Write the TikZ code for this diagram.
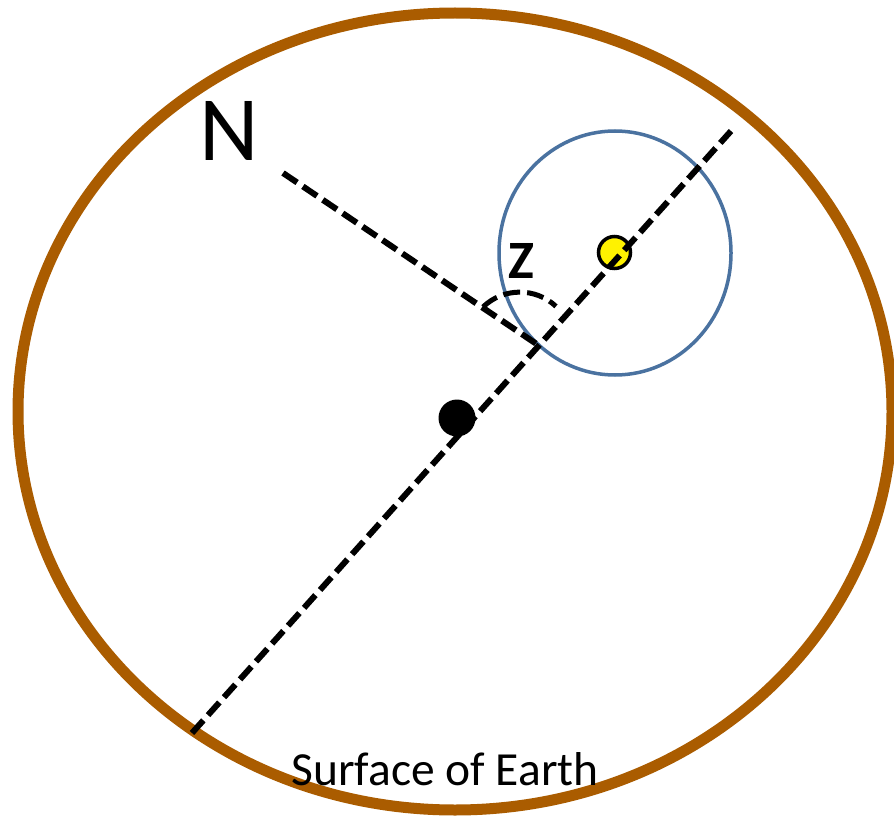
\documentclass[tikz,border=0pt]{standalone}
\usepackage{fontspec}
\setmainfont{Carlito}
\definecolor{earthbrown}{HTML}{AA5C00}
\definecolor{circblue}{HTML}{4A72A0}
\begin{document}
\begin{tikzpicture}[x=1pt,y=-1pt,
  earth/.style={draw=earthbrown,line width=11pt},
  skyc/.style={draw=circblue,line width=3.5pt},
  dline/.style={line width=6pt,dash pattern=on 17pt off 7pt},
  sunnode/.style={circle,fill=yellow,draw=black,line width=3.5pt,minimum size=32pt,inner sep=0pt},
  obs/.style={circle,fill=black,minimum size=37pt,inner sep=0pt},
  lbl/.style={inner sep=0pt}]
\useasboundingbox (0,0) rectangle (894,824);
\draw[earth] (455,411.5) ellipse [x radius=437, y radius=398.5];
\draw[skyc] (615,253) ellipse [x radius=116, y radius=122];
\node[sunnode] (sun) at (614.5,252.5) {};
\coordinate (A) at (192,733);
\coordinate (B) at (731,131);
\coordinate (N0) at (283,173);
\coordinate (I) at (538,345);
\draw[dline] (A) -- (B);
\draw[dline] (N0) -- (I);
\draw[line width=5pt,dash pattern=on 17pt off 7pt] (483,307) arc [start angle=-134, end angle=-47, radius=53];
\node[obs] (dot) at (457,418) {};
\node[lbl,font=\fontsize{92}{92}\selectfont] (N) at (229,131) {N};
\node[lbl,font=\fontsize{54}{54}\selectfont\bfseries] (Z) at (521.5,261) {Z};
\node[lbl,font=\fontsize{47.5}{47.5}\selectfont,anchor=base] (S) at (445,785) {Surface of Earth};
\end{tikzpicture}
\end{document}
